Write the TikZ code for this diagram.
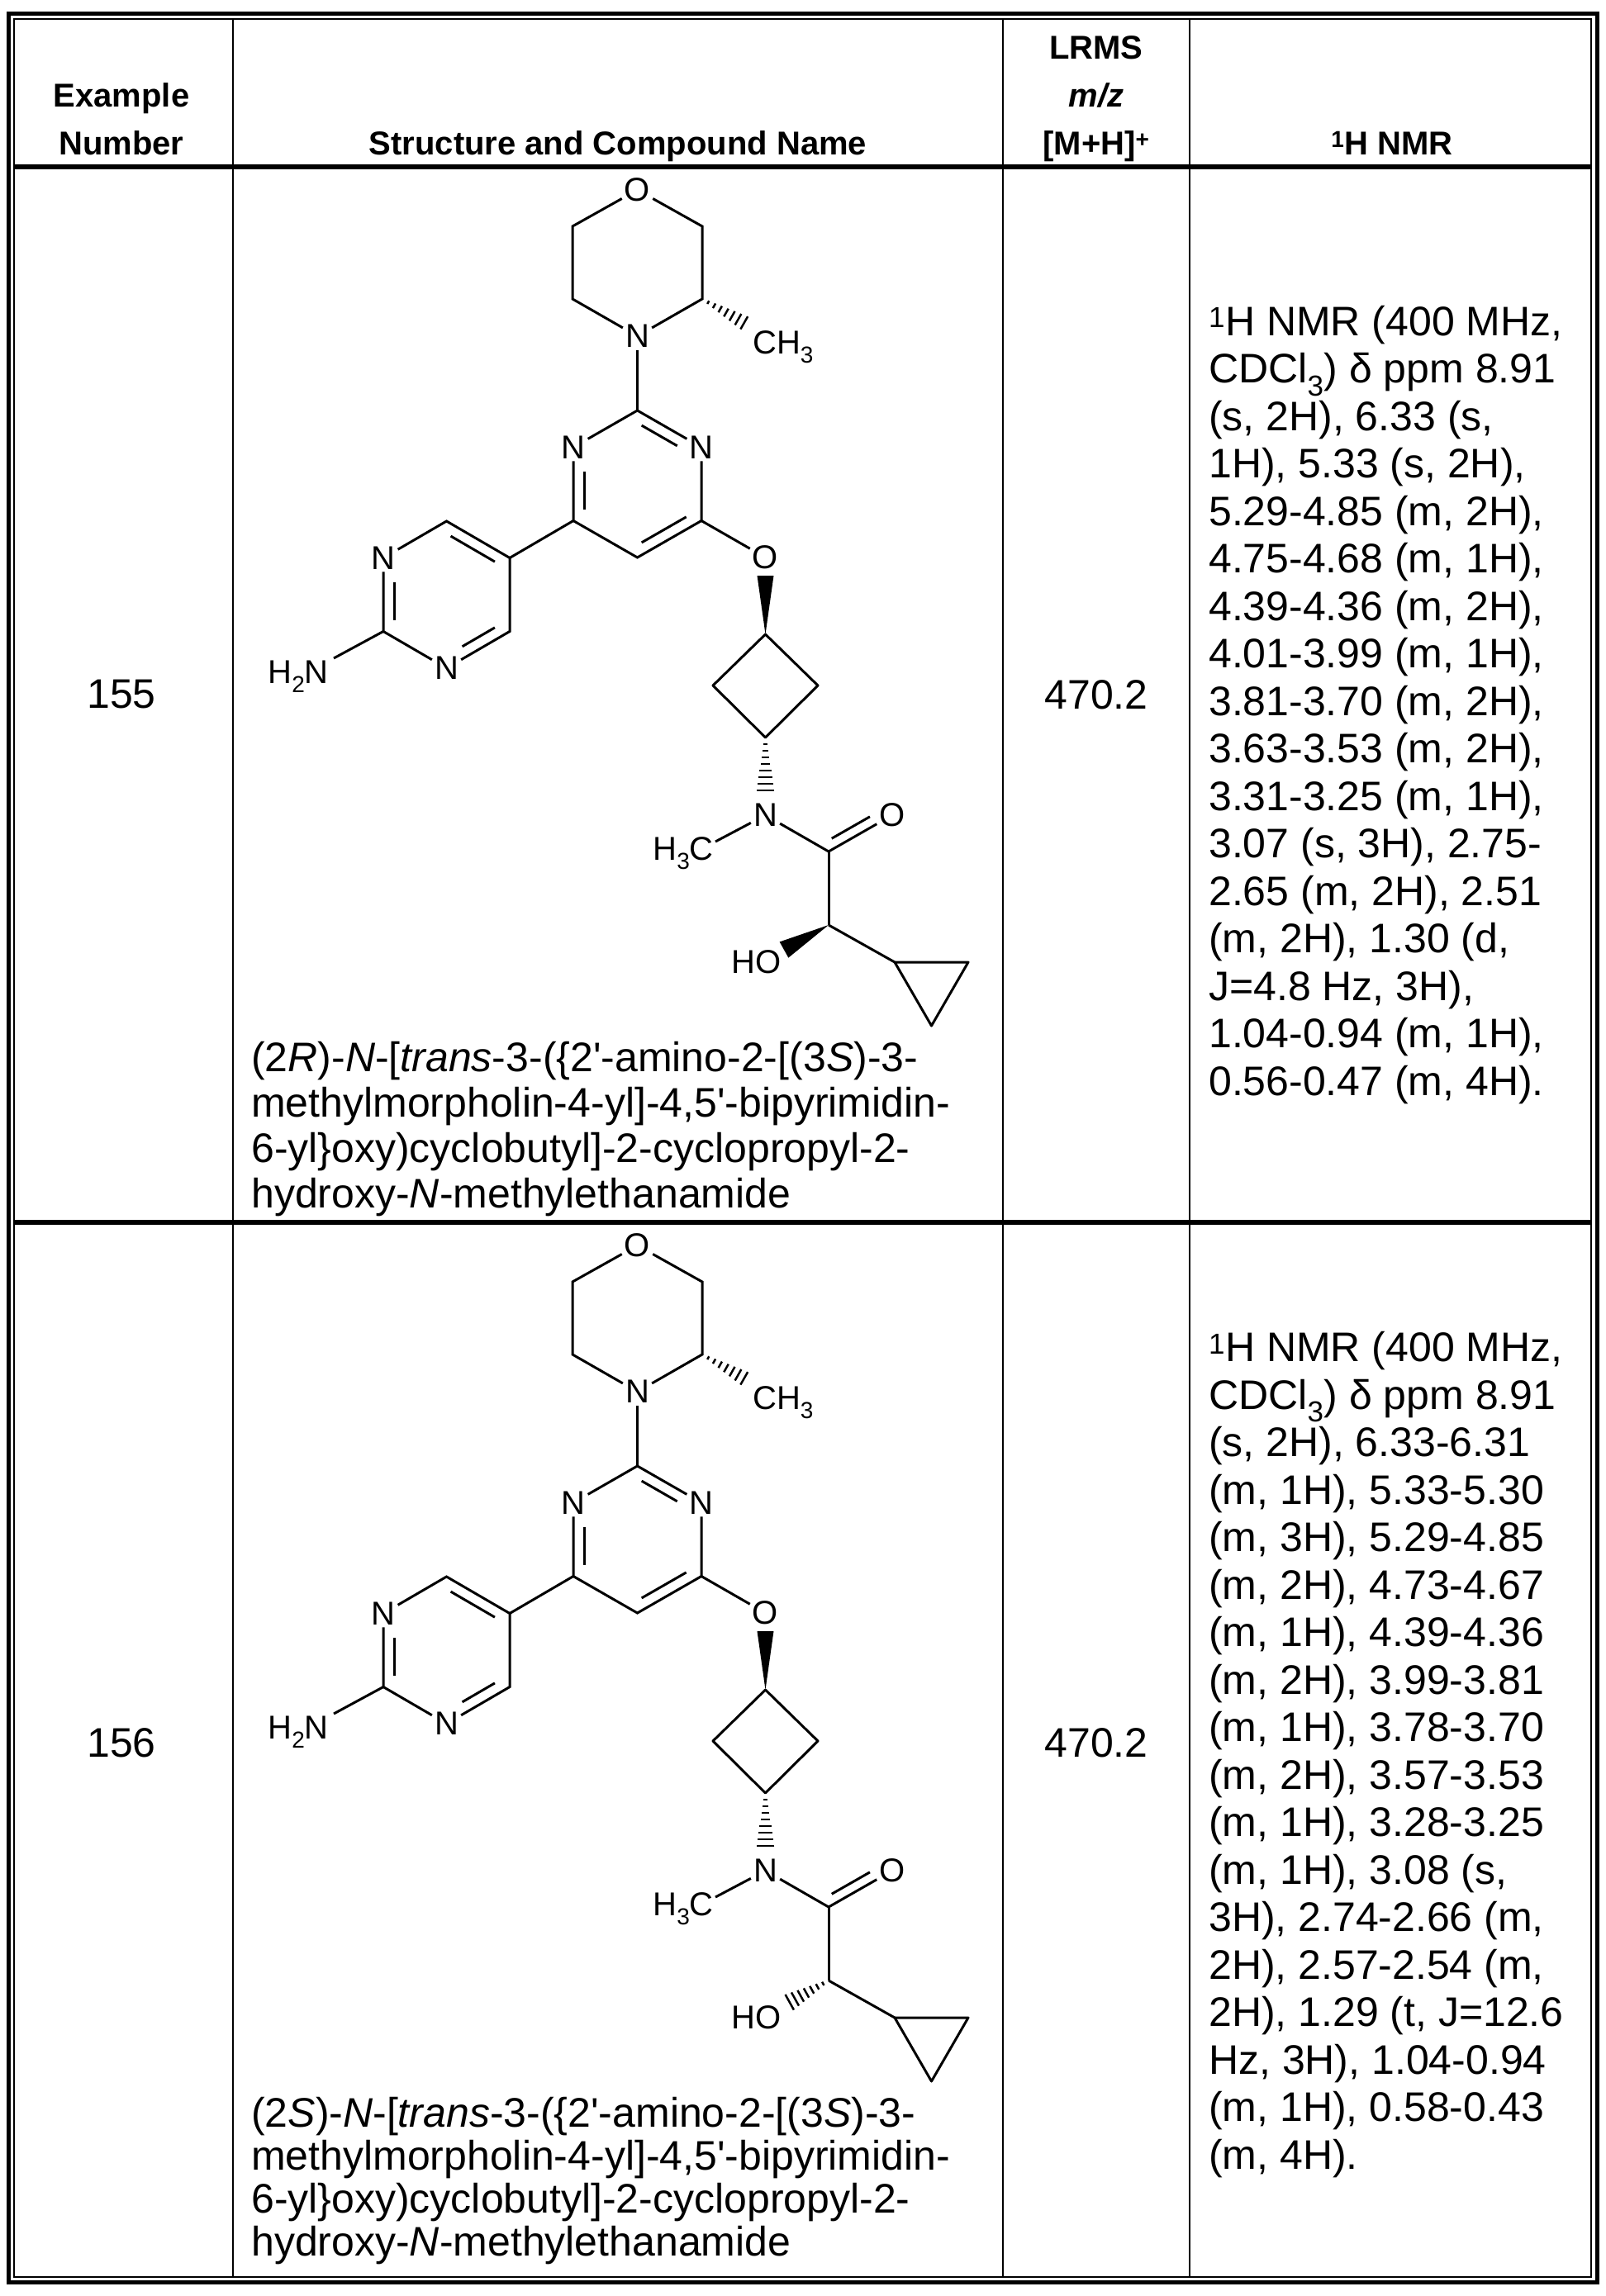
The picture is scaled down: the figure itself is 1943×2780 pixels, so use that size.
\documentclass[tikz,border=0pt]{standalone}
\usepackage{fontspec}
\setmainfont{Liberation Sans}
\usetikzlibrary{calc}
\newcommand\chsub[1]{\raisebox{-0.28em}{\fontsize{28}{28}\selectfont #1}}
\newcommand\hashb[4]{\foreach \i in {1,...,#3}{\pgfmathsetmacro\hT{\i/#3}\pgfmathsetmacro\hD{#4*\hT+1}
 \draw[line width=2.5pt] ($($(#1)!\hT!(#2)$)!\hD pt!90:(#2)$) -- ($($(#1)!\hT!(#2)$)!\hD pt!-90:(#2)$);}}
\newcommand\wedgeb[3]{\fill (#1) -- ($(#2)!#3 pt!90:(#1)$) -- ($(#2)!#3 pt!-90:(#1)$) -- cycle;}
\newcommand\innerb[5]{\draw[bond] ($($(#1)!.17!(#3)$)!#4!($(#2)!.17!(#3)$)$) -- ($($(#1)!.17!(#3)$)!#5!($(#2)!.17!(#3)$)$);}
\newcommand\mol[2]{%
 % morpholine
 \node[atom] (#1Om) at (771.5,230) {O};
 \coordinate (#1Ca) at (850,274);
 \coordinate (#1Cb) at (850,362);
 \node[atom] (#1Nm) at (771.5,407) {N};
 \coordinate (#1Cc) at (693,362);
 \coordinate (#1Cd) at (693,274);
 \draw[bond] (#1Om) -- (#1Ca) -- (#1Cb) -- (#1Nm) -- (#1Cc) -- (#1Cd) -- (#1Om);
 \coordinate (#1Mh) at (908,395);
 \hashb{#1Cb}{#1Mh}{8}{9}
 \node[atom,anchor=base west,inner sep=0pt] (#1CH) at (911,428) {CH\chsub{3}};
 % pyrimidine
 \coordinate (#1C2) at (771.5,497);
 \node[atom] (#1N3) at (849,541.5) {N};
 \coordinate (#1C4) at (849,630.5);
 \coordinate (#1C5) at (771.5,675);
 \coordinate (#1C6) at (694,630.5);
 \node[atom] (#1N1) at (694,541.5) {N};
 \coordinate (#1P) at (771.5,586);
 \draw[bond] (#1Nm) -- (#1C2);
 \draw[bond] (#1C2) -- (#1N3) -- (#1C4) -- (#1C5) -- (#1C6) -- (#1N1) -- (#1C2);
 \innerb{#1C2}{#1N3}{#1P}{0.08}{0.75}
 \innerb{#1N1}{#1C6}{#1P}{0.3}{0.92}
 \innerb{#1C4}{#1C5}{#1P}{0.08}{0.92}
 % aminopyrimidine
 \coordinate (#1A4) at (540.5,631);
 \node[atom] (#1A3) at (464,675.5) {N};
 \coordinate (#1A2) at (464,764.5);
 \node[atom] (#1A1) at (540.5,809) {N};
 \coordinate (#1A6) at (617,764.5);
 \coordinate (#1A5) at (617,675.5);
 \coordinate (#1Q) at (540.5,720);
 \draw[bond] (#1C6) -- (#1A5);
 \draw[bond] (#1A5) -- (#1A4) -- (#1A3) -- (#1A2) -- (#1A1) -- (#1A6) -- (#1A5);
 \innerb{#1A4}{#1A5}{#1Q}{0.08}{0.92}
 \innerb{#1A3}{#1A2}{#1Q}{0.3}{0.92}
 \innerb{#1A1}{#1A6}{#1Q}{0.3}{0.92}
 \coordinate (#1Nb) at (404,797);
 \node[atom,anchor=base east,inner sep=0pt] (#1NH) at (398,827) {H\chsub{2}N};
 \draw[bond] (#1A2) -- (#1Nb);
 % ether and cyclobutane
 \node[atom] (#1Oe) at (926.5,675) {O};
 \draw[bond] (#1C4) -- (#1Oe);
 \coordinate (#1Kt) at (926.5,768);
 \coordinate (#1Kr) at (990,830);
 \coordinate (#1Kb) at (926.5,893);
 \coordinate (#1Kl) at (863,830);
 \draw[bond,line join=round] (#1Kt) -- (#1Kr) -- (#1Kb) -- (#1Kl) -- cycle;
 \coordinate (#1Ow) at (926.5,697);
 \wedgeb{#1Kt}{#1Ow}{10}
 \coordinate (#1Nh) at (926.5,965);
 \hashb{#1Kb}{#1Nh}{9}{11}
 % amide
 \node[atom] (#1Na) at (926.5,987) {N};
 \coordinate (#1Me) at (866,1019);
 \node[atom,anchor=base east,inner sep=0pt] (#1HC) at (864,1041) {H\chsub{3}C};
 \draw[bond] (#1Na) -- (#1Me);
 \coordinate (#1Co) at (1003,1031);
 \node[atom] (#1Ok) at (1080,987) {O};
 \draw[bond] (#1Na) -- (#1Co) -- (#1Ok);
 \draw[bond] ($(#1Co)!0.12!(#1Ok)+(-5.5,-10.5)$) -- ($(#1Co)!0.72!(#1Ok)+(-5.5,-10.5)$);
 \coordinate (#1CH1) at (1003,1120);
 \draw[bond] (#1Co) -- (#1CH1);
 \node[atom,anchor=base east,inner sep=0pt] (#1HO) at (946,1178) {HO};
 \coordinate (#1Hw) at (949,1150);
 #2
 \coordinate (#1P1) at (1083,1165);
 \coordinate (#1P2) at (1172,1165);
 \coordinate (#1P3) at (1127.5,1242);
 \draw[bond] (#1CH1) -- (#1P1);
 \draw[bond,line join=round] (#1P1) -- (#1P2) -- (#1P3) -- cycle;
}
\begin{document}
\begin{tikzpicture}[x=1pt,y=-1pt,
 atom/.style={font=\fontsize{40}{40}\selectfont, inner sep=3pt},
 bond/.style={line width=3pt},
 rule/.style={line width=2.5pt},
 hdr/.style={font=\fontsize{40}{58}\bfseries, align=center, anchor=base},
 body/.style={font=\fontsize{50}{57.5}\selectfont}]
\useasboundingbox (0,0) rectangle (1943,2780);
% table
\draw[line width=5pt] (10,17) rectangle (1933,2763);
\draw[line width=2pt] (17,23) rectangle (1926,2757);
\draw[line width=6pt] (17,202) -- (1926,202);
\draw[line width=6pt] (17,1480) -- (1926,1480);
\foreach \xx in {282,1214,1440} \draw[rule] (\xx,23) -- (\xx,2757);
% header
\node[hdr] (h1a) at (147,130) {Example};
\node[hdr] (h1b) at (147,188) {Number};
\node[hdr] (h2) at (748,188) {Structure and Compound Name};
\node[hdr] (h3a) at (1327,72) {LRMS};
\node[hdr] (h3b) at (1327,130) {\textit{m/z}};
\node[hdr] (h3c) at (1327,188) {[M+H]\textsuperscript{+}};
\node[hdr] (h4) at (1685,188) {\textsuperscript{1}H NMR};
% row 1
\node[body] (n1) at (147,841) {155};
\node[body] (m1) at (1327,841) {470.2};
\mol{a}{\wedgeb{aCH1}{aHw}{11}}
\node[font=\fontsize{50}{55}\selectfont, anchor=base west, align=left, inner sep=0pt] (name1) at (304,1462) {(2\textit{R})-\textit{N}-[\textit{trans}-3-(\{2\textquotesingle-amino-2-[(3\textit{S})-3-\\methylmorpholin-4-yl]-4,5\textquotesingle-bipyrimidin-\\6-yl\}oxy)cyclobutyl]-2-cyclopropyl-2-\\hydroxy-\textit{N}-methylethanamide};
\node[body, anchor=base west, align=left, inner sep=0pt] (nmr1) at (1463,1326) {\textsuperscript{1}H NMR (400 MHz,\\CDCl\textsubscript{3}) δ ppm 8.91\\(s, 2H), 6.33 (s,\\1H), 5.33 (s, 2H),\\5.29-4.85 (m, 2H),\\4.75-4.68 (m, 1H),\\4.39-4.36 (m, 2H),\\4.01-3.99 (m, 1H),\\3.81-3.70 (m, 2H),\\3.63-3.53 (m, 2H),\\3.31-3.25 (m, 1H),\\3.07 (s, 3H), 2.75-\\2.65 (m, 2H), 2.51\\(m, 2H), 1.30 (d,\\J=4.8 Hz, 3H),\\1.04-0.94 (m, 1H),\\0.56-0.47 (m, 4H).};
% row 2
\node[body] (n2) at (147,2110) {156};
\node[body] (m2) at (1327,2110) {470.2};
\begin{scope}[yshift=-1278pt]
\mol{b}{\hashb{bCH1}{bHw}{8}{11}}
\end{scope}
\node[font=\fontsize{50}{52}\selectfont, anchor=base west, align=left, inner sep=0pt] (name2) at (304,2731) {(2\textit{S})-\textit{N}-[\textit{trans}-3-(\{2\textquotesingle-amino-2-[(3\textit{S})-3-\\methylmorpholin-4-yl]-4,5\textquotesingle-bipyrimidin-\\6-yl\}oxy)cyclobutyl]-2-cyclopropyl-2-\\hydroxy-\textit{N}-methylethanamide};
\node[body, anchor=base west, align=left, inner sep=0pt] (nmr2) at (1463,2626) {\textsuperscript{1}H NMR (400 MHz,\\CDCl\textsubscript{3}) δ ppm 8.91\\(s, 2H), 6.33-6.31\\(m, 1H), 5.33-5.30\\(m, 3H), 5.29-4.85\\(m, 2H), 4.73-4.67\\(m, 1H), 4.39-4.36\\(m, 2H), 3.99-3.81\\(m, 1H), 3.78-3.70\\(m, 2H), 3.57-3.53\\(m, 1H), 3.28-3.25\\(m, 1H), 3.08 (s,\\3H), 2.74-2.66 (m,\\2H), 2.57-2.54 (m,\\2H), 1.29 (t, J=12.6\\Hz, 3H), 1.04-0.94\\(m, 1H), 0.58-0.43\\(m, 4H).};
\end{tikzpicture}
\end{document}
